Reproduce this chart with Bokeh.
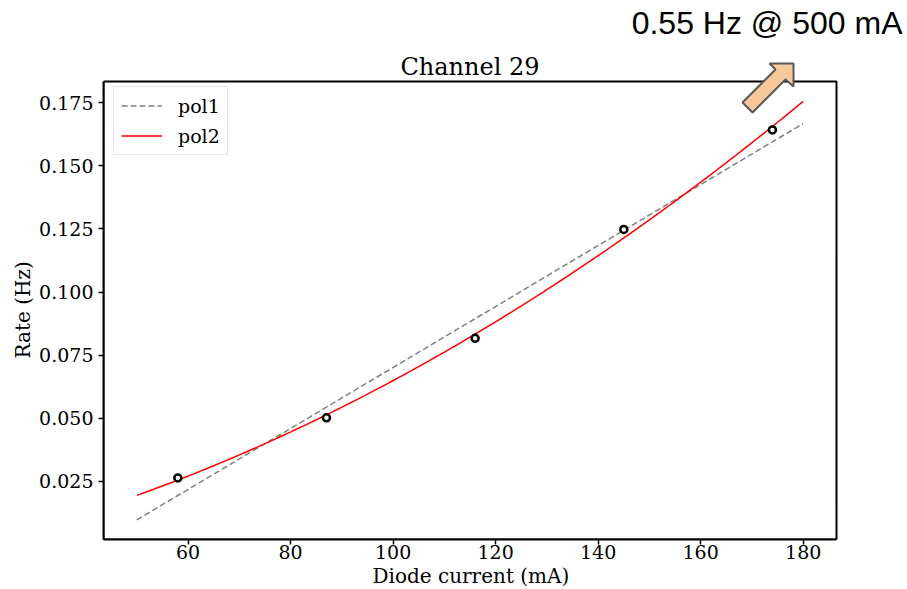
import numpy as np
from bokeh.plotting import figure
from bokeh.models import (Range1d, FixedTicker, NumeralTickFormatter, Legend, LegendItem,
                          Label, PolyAnnotation, BoxAnnotation, Title)
from bokeh.embed import file_html
from bokeh.resources import INLINE

# ---- data ----
current_ma = [58, 87, 116, 145, 174]
rate_hz = [0.0264, 0.0502, 0.0817, 0.1248, 0.1642]
fit_x_start, fit_x_end = 50, 180
x_ticks = [60, 80, 100, 120, 140, 160, 180]
y_ticks = [0.025, 0.050, 0.075, 0.100, 0.125, 0.150, 0.175]
title_text = "Channel 29"
x_label = "Diode current (mA)"
y_label = "Rate (Hz)"
note_text = "0.55 Hz @ 500 mA"
series_names = ["pol1", "pol2"]

# axes limits (the visible axes box)
X_LIM = (43.5, 186.5)
Y_LIM = (0.0020, 0.1834)

# fits of the measured points (as in the original chart)
xf = np.linspace(fit_x_start, fit_x_end, 200)
c1 = np.polyfit(current_ma, rate_hz, 1)
c2 = np.polyfit(current_ma, rate_hz, 2)
y1 = np.polyval(c1, xf)
y2 = np.polyval(c2, xf)

# ---- layout (pixels) ----
W, H = 907, 589
BOX_L, BOX_R, BOX_T, BOX_B = 103, 836, 81, 539   # axes box on the canvas
SERIF = "DejaVu Serif"

# the plotting frame spans the whole area right of / above the axes, so that the
# note and the arrow above the axes box can be drawn; the box itself is drawn on top
xpp = (X_LIM[1] - X_LIM[0]) / (BOX_R - BOX_L)
ypp = (Y_LIM[1] - Y_LIM[0]) / (BOX_B - BOX_T)
x_range = Range1d(X_LIM[0], X_LIM[1] + (W - BOX_R) * xpp)
y_range = Range1d(Y_LIM[0], Y_LIM[1] + BOX_T * ypp)

p = figure(width=W, height=H, output_backend="svg", toolbar_location=None,
           x_range=x_range, y_range=y_range)
p.min_border_left = BOX_L
p.min_border_right = 0
p.min_border_top = 0
p.min_border_bottom = H - BOX_B
p.background_fill_color = "white"
p.border_fill_color = "white"
p.outline_line_color = None
p.grid.visible = False

for ax in (p.xaxis[0], p.yaxis[0]):
    ax.axis_line_width = 2
    ax.axis_line_color = "black"
    ax.major_tick_in = 0
    ax.major_tick_out = 5
    ax.major_tick_line_width = 1.5
    ax.minor_tick_line_color = None
    ax.major_label_text_font = SERIF
    ax.major_label_text_font_size = "19px"
    ax.major_label_text_color = "black"

p.xaxis.bounds = X_LIM
p.yaxis.bounds = Y_LIM
p.xaxis.ticker = FixedTicker(ticks=x_ticks)
p.yaxis.ticker = FixedTicker(ticks=y_ticks)
p.yaxis.formatter = NumeralTickFormatter(format="0.000")
p.xaxis.major_label_standoff = 0
p.yaxis.major_label_standoff = 5

# axis titles, positioned along the axes box (not the whole frame)
p.add_layout(Title(text=x_label, align="left", offset=269, standoff=0,
                   vertical_align="bottom", text_font=SERIF, text_font_size="20px",
                   text_font_style="normal", text_color="black"), "below")
p.add_layout(Title(text=y_label, align="left", offset=181, standoff=4,
                   vertical_align="bottom", text_font=SERIF, text_font_size="20px",
                   text_font_style="normal", text_color="black"), "left")

r1 = p.line(xf, y1, line_color="gray", line_width=1.5, line_dash="6 3")
r2 = p.line(xf, y2, line_color="red", line_width=1.5)
p.scatter(current_ma, rate_hz, size=7, marker="circle", fill_color="white",
          line_color="black", line_width=2.5)

# axes box (top and right spines)
p.add_layout(BoxAnnotation(left=X_LIM[0], right=X_LIM[1], bottom=Y_LIM[0], top=Y_LIM[1],
                           fill_alpha=0, line_color="black", line_width=2, line_alpha=1))

legend = Legend(items=[LegendItem(label=series_names[0], renderers=[r1]),
                       LegendItem(label=series_names[1], renderers=[r2])],
                location=(10, 384))
legend.padding = 7
legend.spacing = 7
legend.glyph_width = 41
legend.glyph_height = 23
legend.label_height = 23
legend.label_standoff = 16
legend.label_text_font = SERIF
legend.label_text_font_size = "19px"
legend.label_text_color = "black"
legend.border_line_color = "#cccccc"
legend.border_line_width = 1
legend.background_fill_alpha = 0.8
p.add_layout(legend, "center")

# chart title (screen units relative to the frame's lower-left corner)
p.add_layout(Label(x=(BOX_L + BOX_R) / 2 - BOX_L, y=473, x_units="screen", y_units="screen",
                   text=title_text, text_font=SERIF, text_font_size="24px", text_color="black",
                   text_align="center", text_baseline="alphabetic"))

# note and arrow
p.add_layout(Label(x=799, y=517, x_units="screen", y_units="screen", text=note_text,
                   text_font="Liberation Sans", text_font_size="32px", text_color="black",
                   text_align="right", text_baseline="alphabetic"))

arrow_sx = [690, 666, 672, 639, 649, 682, 690]
arrow_sy = [476, 476, 470, 437, 427, 460, 453]
p.add_layout(PolyAnnotation(xs=arrow_sx, ys=arrow_sy, xs_units="screen", ys_units="screen",
                            fill_color="#F8C89A", fill_alpha=1.0,
                            line_color="#595959", line_width=2, line_alpha=1.0))

open("out.html", "w").write(file_html(p, INLINE))
